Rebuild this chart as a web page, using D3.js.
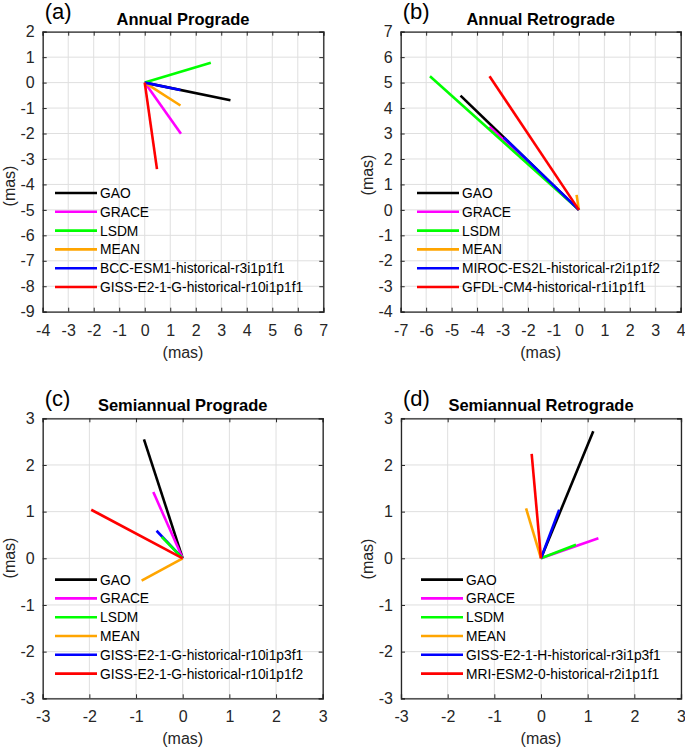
<!DOCTYPE html>
<html>
<head>
<meta charset="utf-8">
<script src="https://cdn.jsdelivr.net/npm/d3@7"></script>
<style>
  html, body { margin: 0; padding: 0; background: #fff; }
  svg { display: block; font-family: "Liberation Sans", Arial, sans-serif; }
</style>
</head>
<body>
<svg id="chart" width="685" height="750"></svg>
<script>
// ---------------- DATA ----------------
const seriesNames = ["GAO", "GRACE", "LSDM", "MEAN"];
const seriesColors = ["#000000", "#ff00ff", "#00ff00", "#ffa500", "#0000ff", "#ff0000"];

const panelLabels = ["(a)", "(b)", "(c)", "(d)"];
const panelTitles = ["Annual Prograde", "Annual Retrograde", "Semiannual Prograde", "Semiannual Retrograde"];

const modelsA = ["BCC-ESM1-historical-r3i1p1f1", "GISS-E2-1-G-historical-r10i1p1f1"];
const modelsB = ["MIROC-ES2L-historical-r2i1p1f2", "GFDL-CM4-historical-r1i1p1f1"];
const modelsC = ["GISS-E2-1-G-historical-r10i1p3f1", "GISS-E2-1-G-historical-r10i1p1f2"];
const modelsD = ["GISS-E2-1-H-historical-r3i1p3f1", "MRI-ESM2-0-historical-r2i1p1f1"];

// vector end points (x, y) in mas: GAO, GRACE, LSDM, MEAN, model1, model2
const vecXA = [3.36, 1.42, 2.59, 1.40, 1.40, 0.48];
const vecYA = [-0.69, -2.01, 0.78, -0.90, -0.29, -3.40];
const vecXB = [-4.65, -3.51, -5.85, -0.09, -2.95, -3.51];
const vecYB = [4.49, 3.27, 5.25, 0.59, 2.85, 5.25];
const vecXC = [-0.83, -0.63, -0.45, -0.88, -0.56, -1.96];
const vecYC = [2.55, 1.42, 0.46, -0.48, 0.59, 1.04];
const vecXD = [1.12, 1.23, 0.75, -0.32, 0.39, -0.20];
const vecYD = [2.72, 0.43, 0.29, 1.07, 1.04, 2.24];

// tick labels
const ticksXA = [-4, -3, -2, -1, 0, 1, 2, 3, 4, 5, 6, 7];
const ticksYA = [-9, -8, -7, -6, -5, -4, -3, -2, -1, 0, 1, 2];
const ticksXB = [-7, -6, -5, -4, -3, -2, -1, 0, 1, 2, 3, 4];
const ticksYB = [-4, -3, -2, -1, 0, 1, 2, 3, 4, 5, 6, 7];
const ticksXC = [-3, -2, -1, 0, 1, 2, 3];
const ticksYC = [-3, -2, -1, 0, 1, 2, 3];
const ticksXD = [-3, -2, -1, 0, 1, 2, 3];
const ticksYD = [-3, -2, -1, 0, 1, 2, 3];

const axisLabel = "(mas)";

// ---------------- LAYOUT ----------------
const panels = [
  { label: panelLabels[0], title: panelTitles[0], models: modelsA, xs: vecXA, ys: vecYA, tx: ticksXA, ty: ticksYA,
    left: 42.7, top: 31.7, w: 280.6, h: 280, ylabY: 186, lgOff: 12.3, order: [0,1,2,3,4,5] },
  { label: panelLabels[1], title: panelTitles[1], models: modelsB, xs: vecXB, ys: vecYB, tx: ticksXB, ty: ticksYB,
    left: 400.7, top: 31.7, w: 280, h: 280, ylabY: 175, lgOff: 16.3, order: [0,1,2,3,4,5] },
  { label: panelLabels[2], title: panelTitles[2], models: modelsC, xs: vecXC, ys: vecYC, tx: ticksXC, ty: ticksYC,
    left: 42.7, top: 418.3, w: 280, h: 280, ylabY: 558, lgOff: 12.3, order: [0,1,4,2,3,5] },
  { label: panelLabels[3], title: panelTitles[3], models: modelsD, xs: vecXD, ys: vecYD, tx: ticksXD, ty: ticksYD,
    left: 401, top: 418.3, w: 280, h: 280, ylabY: 559, lgOff: 20, order: [0,1,2,3,4,5] }
];

const svg = d3.select("#chart");

panels.forEach(p => {
  const names = seriesNames.concat(p.models);
  const x = d3.scaleLinear().domain(d3.extent(p.tx)).range([p.left, p.left + p.w]);
  const y = d3.scaleLinear().domain(d3.extent(p.ty)).range([p.top + p.h, p.top]);
  const g = svg.append("g");

  // grid
  g.append("g").selectAll("line").data(p.tx).join("line")
    .attr("x1", d => x(d)).attr("x2", d => x(d))
    .attr("y1", p.top).attr("y2", p.top + p.h)
    .attr("stroke", "#dfdfdf").attr("stroke-width", 1);
  g.append("g").selectAll("line").data(p.ty).join("line")
    .attr("y1", d => y(d)).attr("y2", d => y(d))
    .attr("x1", p.left).attr("x2", p.left + p.w)
    .attr("stroke", "#dfdfdf").attr("stroke-width", 1);

  // axes with inward ticks
  const tickFont = 16;
  const xAxisB = d3.axisBottom(x).tickValues(p.tx).tickSize(-4).tickPadding(12.5).tickFormat(d3.format("d"));
  const xAxisT = d3.axisTop(x).tickValues(p.tx).tickSize(-4).tickFormat("");
  const yAxisL = d3.axisLeft(y).tickValues(p.ty).tickSize(-4).tickPadding(8).tickFormat(d3.format("d"));
  const yAxisR = d3.axisRight(y).tickValues(p.ty).tickSize(-4).tickFormat("");

  const styleAxis = sel => {
    sel.selectAll("path").attr("stroke", "#262626").attr("stroke-width", 1.3);
    sel.selectAll("line").attr("stroke", "#262626").attr("stroke-width", 1);
    sel.selectAll("text").attr("fill", "#262626").style("font-size", tickFont + "px")
      .style("font-family", "'Liberation Sans', Arial, sans-serif");
  };
  g.append("g").attr("transform", `translate(0,${p.top + p.h})`).call(xAxisB).call(styleAxis);
  g.append("g").attr("transform", `translate(0,${p.top})`).call(xAxisT).call(styleAxis);
  g.append("g").attr("transform", `translate(${p.left},0)`).call(yAxisL).call(styleAxis);
  g.append("g").attr("transform", `translate(${p.left + p.w},0)`).call(yAxisR).call(styleAxis);
  g.selectAll(".domain").attr("fill", "none");

  // minus sign as hyphen like MATLAB
  g.selectAll(".tick text").text(function() { return d3.select(this).text().replace("\u2212", "-"); });

  // vectors
  const vecs = p.order.map(i => ({ i, x: p.xs[i], y: p.ys[i] }));
  g.append("g").selectAll("line").data(vecs).join("line")
    .attr("x1", x(0)).attr("y1", y(0))
    .attr("x2", d => x(d.x)).attr("y2", d => y(d.y))
    .attr("stroke", d => seriesColors[d.i])
    .attr("stroke-width", 2.6)
    .attr("stroke-linecap", "butt");

  // legend
  const lgX = p.left + p.lgOff, lgY0 = p.top + 161.3, lgDy = 18.8;
  const lg = g.append("g").selectAll("g").data(names).join("g")
    .attr("transform", (d, i) => `translate(${lgX},${lgY0 + i * lgDy})`);
  lg.append("line").attr("x1", 0).attr("x2", 42).attr("y1", 0).attr("y2", 0)
    .attr("stroke", (d, i) => seriesColors[i]).attr("stroke-width", 2.6);
  lg.append("text").attr("x", 45).attr("y", 5).text(d => d)
    .style("font-size", "13.8px").attr("fill", "#000");

  // titles
  g.append("text").attr("x", p.left + p.w / 2).attr("y", p.top - 7)
    .attr("text-anchor", "middle").style("font-size", "16.5px").style("font-weight", "bold")
    .attr("fill", "#000").text(p.title);
  g.append("text").attr("x", p.left + 2).attr("y", p.top - 12.3)
    .style("font-size", "22px").attr("fill", "#000").text(p.label);

  // axis labels
  g.append("text").attr("x", p.left + p.w / 2).attr("y", p.top + p.h + 46)
    .attr("text-anchor", "middle").style("font-size", "16px").attr("fill", "#262626").text(axisLabel);
  g.append("text").attr("transform", `translate(${p.left - 28},${p.ylabY}) rotate(-90)`)
    .attr("text-anchor", "middle").style("font-size", "16px").attr("fill", "#262626").text(axisLabel);
});
</script>
</body>
</html>
